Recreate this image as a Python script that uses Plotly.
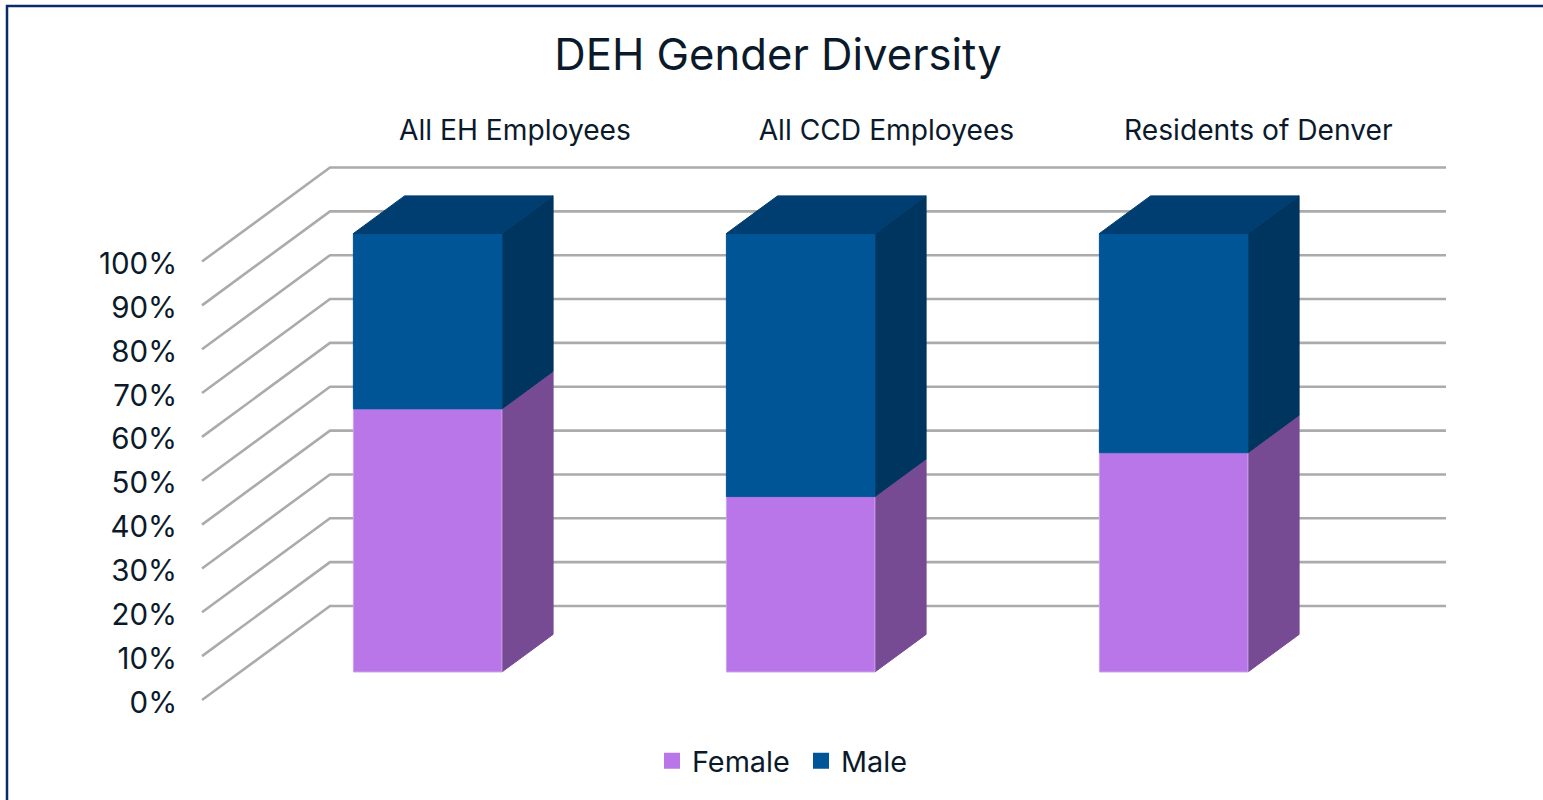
import plotly.graph_objects as go

categories = ["All EH Employees", "All CCD Employees", "Residents of Denver"]
female = [60, 40, 50]
male = [40, 60, 50]
y_ticks = [0, 10, 20, 30, 40, 50, 60, 70, 80, 90, 100]
y_labels = ["0%", "10%", "20%", "30%", "40%", "50%", "60%", "70%", "80%", "90%", "100%"]

W, H = 1543, 800
ORIGIN_X, ORIGIN_Y = 202, 700          # pixel of category edge / 0% on the front plane
L, R, T, B = 198, 1450, 160, 706       # plot area, a little larger than the drawing so lines are not clipped
PX_PER_PCT = 4.385
PX_PER_CAT = 373.0
DX, DY = 128 / PX_PER_CAT, 94 / PX_PER_PCT
BAR_W = 148.5 / PX_PER_CAT
D0, D1 = 0.298, 0.698
SHIFT = 1.0 / PX_PER_CAT
LABEL_DROP = 2.2 / PX_PER_PCT
GRID = "#ABABAB"
INK = "#0B1A2B"
FONT = "Inter"


def proj(x, y, d):
    return x + DX * d, y + DY * d


def poly(points, color, line=None):
    xs, ys = zip(*points)
    return go.Scatter(
        x=list(xs) + [xs[0]], y=list(ys) + [ys[0]], mode="lines", fill="toself",
        fillcolor=color, line=dict(color=line or color, width=1),
        hoverinfo="skip", showlegend=False,
    )


fig = go.Figure()

for v in y_ticks:
    a, b, c = proj(-0.5, v, 0), proj(-0.5, v, 1), proj(2.492, v, 1)
    fig.add_trace(go.Scatter(x=[a[0], b[0], c[0]], y=[a[1], b[1], c[1]], mode="lines",
                             line=dict(color=GRID, width=2.6), hoverinfo="skip", showlegend=False))

for i in range(len(categories)):
    cx = i + SHIFT
    x0, x1 = cx - BAR_W / 2, cx + BAR_W / 2
    v0 = 0.0
    for vals, front, side, edge in ((female, "#B976E9", "#774A94", "#C9A6E6"),
                                    (male, "#005597", "#00355F", "#005597")):
        v1 = v0 + vals[i]
        fig.add_trace(poly([proj(x1, v0, D0), proj(x1, v0, D1), proj(x1, v1, D1), proj(x1, v1, D0)], side))
        fig.add_trace(poly([proj(x0, v0, D0), proj(x1, v0, D0), proj(x1, v1, D0), proj(x0, v1, D0)], front, edge))
        v0 = v1
    fig.add_trace(poly([proj(x0, v0, D0), proj(x1, v0, D0), proj(x1, v0, D1), proj(x0, v0, D1)], "#003E72"))

for name, color in (("Female", "#B976E9"), ("Male", "#005597")):
    fig.add_trace(go.Scatter(x=[None], y=[None], mode="markers", name=name,
                             marker=dict(symbol="square", size=16, color=color)))


def px(x):
    return (x - L) / (R - L)


def py(y):
    return (B - y) / (B - T)


fig.add_shape(type="rect", xref="paper", yref="paper", x0=px(7), x1=px(W + 20), y0=py(6), y1=py(H + 20),
              line=dict(color="#0A2A6A", width=2.5), fillcolor="rgba(0,0,0,0)", layer="below")

fig.update_layout(
    width=W, height=H, autosize=False,
    margin=dict(l=L, r=W - R, t=T, b=H - B),
    paper_bgcolor="white", plot_bgcolor="white",
    font=dict(family=FONT, color=INK),
    title=dict(text="DEH Gender Diversity", font=dict(size=43.6, family=FONT, color=INK),
               x=778 / W, xanchor="center", xref="container", y=1 - 55 / H, yanchor="middle", yref="container"),
    xaxis=dict(range=[-0.5 - (ORIGIN_X - L) / PX_PER_CAT, -0.5 + (R - ORIGIN_X) / PX_PER_CAT],
               side="top", showgrid=False, zeroline=False, showline=False,
               tickmode="array", tickvals=[0.339, 1.335, 2.332], ticktext=categories,
               ticks="outside", ticklen=8, tickcolor="rgba(0,0,0,0)", tickfont=dict(size=28.2, family=FONT, color=INK)),
    yaxis=dict(range=[(ORIGIN_Y - B) / PX_PER_PCT, (ORIGIN_Y - T) / PX_PER_PCT],
               showgrid=False, zeroline=False, showline=False,
               tickmode="array", tickvals=[v - LABEL_DROP for v in y_ticks], ticktext=y_labels,
               ticks="outside", ticklen=14, tickcolor="rgba(0,0,0,0)", tickfont=dict(size=29.5, family=FONT, color=INK)),
    legend=dict(orientation="h", xref="container", yref="container", x=652 / W, xanchor="left",
                y=1 - 761 / H, yanchor="middle", font=dict(size=28.8, family=FONT, color=INK),
                entrywidth=104, entrywidthmode="pixels",
                itemsizing="trace", itemclick=False, itemdoubleclick=False, bgcolor="rgba(0,0,0,0)"),
    showlegend=True,
)

fig.write_html("out.html", config={"displayModeBar": False}, post_script="document.body.style.margin='0';")
